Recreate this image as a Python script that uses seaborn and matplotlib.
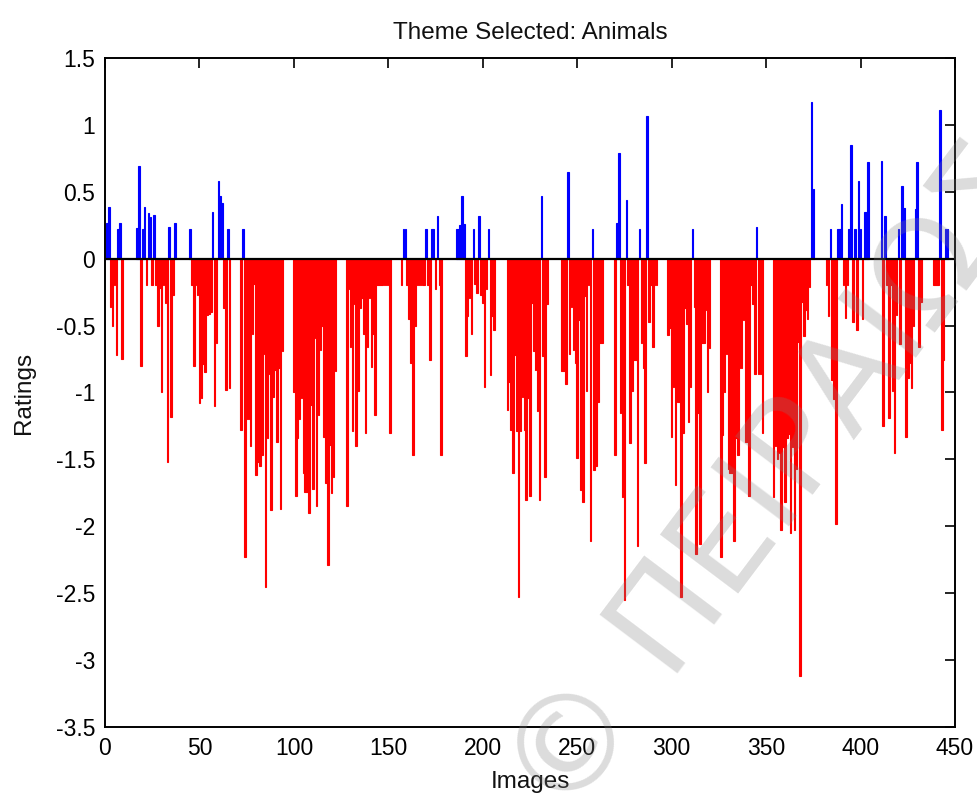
import numpy as np
import pandas as pd
import matplotlib
matplotlib.use("Agg")
import matplotlib.pyplot as plt
import seaborn as sns
from matplotlib.ticker import FuncFormatter

# ---- data: one rating per image (images 1..446) ----
ratings_001_050 = [0.27, 0.39, -0.36, -0.5, -0.2, -0.72, 0.22, 0.27, -0.75, 0,
                   0, 0, 0, 0, 0, 0, 0.23, 0.69, -0.8, 0.22,
                   0.39, -0.2, 0.34, 0.31, -0.2, 0.33, -0.2, -0.5, -0.22, -1.0,
                   -0.2, -0.33, -1.52, 0.24, -1.18, -0.27, 0.27, 0, 0, 0,
                   0, 0, 0, 0, 0.22, -0.2, -0.8, -0.2, -0.27, -1.08]
ratings_051_100 = [-1.04, -0.79, -0.85, -0.42, -0.41, -0.4, 0.35, -1.1, -0.63, 0.58,
                   0.47, 0.42, -0.37, -0.98, 0.22, -0.97, 0, 0, 0, 0,
                   0, -1.28, 0.22, -2.23, -1.2, -1.2, -1.4, -0.56, -0.19, -1.62,
                   -1.52, -1.55, -1.47, -0.71, -2.45, -1.34, -0.86, -1.88, -1.03, -0.83,
                   -1.37, -0.82, -1.87, -0.69, 0, 0, 0, 0, 0, -1.0]
ratings_101_150 = [-1.77, -1.34, -1.2, -1.04, -1.6, -1.74, -1.74, -1.9, -1.09, -1.72,
                   -0.59, -1.85, -1.17, -0.68, -0.5, -1.33, -1.68, -2.29, -1.39, -1.75,
                   -1.63, -0.84, 0, 0, 0, 0, 0, -1.85, -0.23, -0.66,
                   -1.29, -0.34, -1.4, -0.99, -0.37, -0.29, -0.56, -1.3, -0.66, -0.29,
                   -0.81, -0.56, -1.17, -0.2, -0.2, -0.2, -0.2, -0.2, -0.2, -0.2]
ratings_151_200 = [-1.3, 0, 0, 0, 0, 0, -0.2, 0.22, 0.22, -0.2,
                   -0.45, -0.78, -1.47, -0.5, -0.2, -0.2, -0.2, -0.2, -0.2, 0.22,
                   -0.2, -0.76, 0.22, 0.22, -0.23, 0.32, -0.2, -1.47, 0, 0,
                   0, 0, 0, 0, 0, 0.22, 0.22, 0.25, 0.47, 0.26,
                   -0.73, -0.43, -0.29, -0.56, 0.22, -0.19, -0.26, 0.32, -0.27, -0.33]
ratings_201_250 = [-0.96, -0.23, 0.22, -0.87, -0.43, -0.53, 0, 0, 0, 0,
                   0, 0, -1.13, -0.92, -1.28, -1.6, -0.72, -1.29, -2.53, -1.29,
                   -1.03, -1.28, -1.8, -1.04, -1.77, -0.33, -0.69, -0.83, -1.14, -1.8,
                   0.47, -0.73, -1.63, -0.34, 0, 0, 0, 0, 0, 0,
                   0, -0.84, -0.84, -0.94, 0.65, -0.71, -0.36, -0.68, -0.78, -1.49]
ratings_251_300 = [-0.46, -1.73, -1.82, -0.28, -0.99, -0.2, -2.11, 0.22, -1.58, -1.55,
                   -1.07, -0.63, -0.63, 0, 0, 0, 0, 0, 0, -1.47,
                   0.27, 0.79, -1.15, -1.78, -2.55, 0.44, -0.2, -1.38, -0.99, -0.76,
                   -0.76, -2.15, 0.22, -0.63, -0.82, -1.53, 1.07, -0.47, -0.2, -0.66,
                   -0.2, -0.2, 0, 0, 0, 0, 0, -0.57, -0.52, -1.33]
ratings_301_350 = [-0.96, -1.69, -1.07, -1.07, -2.53, -1.3, -0.37, -0.49, -1.22, -0.96,
                   0.22, -0.36, -2.21, -1.15, -2.13, -0.63, -0.63, -0.38, -1.0, -0.67,
                   0, 0, 0, 0, 0, -2.23, -1.32, -1.0, -0.71, -1.57,
                   -1.6, -1.6, -2.11, -1.34, -1.47, -0.82, -0.82, -0.46, -1.37, -1.37,
                   -1.77, -0.2, -0.34, -0.86, 0.24, -0.86, -0.86, -1.3, 0, 0]
ratings_351_400 = [0, 0, 0, -1.78, -1.4, -1.5, -1.45, -2.03, -1.41, -1.82,
                   -1.34, -1.31, -2.05, -1.41, -2.03, -1.57, -0.62, -3.12, -0.32, -0.58,
                   -0.38, -0.45, -0.21, 1.17, 0.52, 0, 0, 0, 0, 0,
                   0, -0.2, -0.43, 0.22, -0.91, -1.05, -1.98, 0.22, 0.22, 0.41,
                   -0.2, -0.44, -0.2, 0.22, 0.85, -0.47, 0.22, -0.53, 0.58, 0.22]
ratings_401_446 = [-0.45, 0.35, 0.35, 0.72, 0, 0, 0, 0, 0, 0,
                   0.73, -1.25, 0.32, -0.2, -1.19, -0.2, -0.99, -1.45, -0.42, 0.22,
                   -0.64, 0.54, 0.38, -1.33, -0.89, -0.78, -0.97, -0.5, 0.37, 0.72,
                   -0.66, -0.32, 0, 0, 0, 0, 0, 0, -0.2, -0.2,
                   -0.2, 1.11, -1.28, -0.76, 0.22, 0.22]

x_ticks = [0, 50, 100, 150, 200, 250, 300, 350, 400, 450]
y_ticks = [-3.5, -3, -2.5, -2, -1.5, -1, -0.5, 0, 0.5, 1, 1.5]
title_text = "Theme Selected: Animals"
x_label = "Images"
y_label = "Ratings"
watermark_text = "© ΠΕΙΡΑΙΩΣ"

ratings = (ratings_001_050 + ratings_051_100 + ratings_101_150 + ratings_151_200 +
           ratings_201_250 + ratings_251_300 + ratings_301_350 + ratings_351_400 +
           ratings_401_446)
images = list(range(1, len(ratings) + 1))

df = pd.DataFrame({"image": images, "rating": ratings})
pos = df[df["rating"] > 0]
neg = df[df["rating"] < 0]

sns.set_style("white")
plt.rcParams["font.family"] = ["Liberation Sans", "DejaVu Sans"]

fig = plt.figure(figsize=(9.78, 7.96), dpi=100)
ax = fig.add_axes([105 / 978, 1 - 727 / 796, 850 / 978, 669 / 796])

sns.barplot(data=neg, x="image", y="rating", native_scale=True, color="#ff0000",
            saturation=1, width=0.85, errorbar=None, edgecolor="#ff0000",
            linewidth=0.8, ax=ax)
sns.barplot(data=pos, x="image", y="rating", native_scale=True, color="#0000ff",
            saturation=1, width=0.85, errorbar=None, edgecolor="#0000ff",
            linewidth=0.8, ax=ax)

ax.axhline(0, color="black", lw=1.6, zorder=5)

ax.set_xlim(0, 450)
ax.set_ylim(-3.5, 1.5)
ax.set_xticks(x_ticks)
ax.set_yticks(y_ticks)
ax.yaxis.set_major_formatter(FuncFormatter(lambda v, p: "%g" % v))
ax.xaxis.set_major_formatter(FuncFormatter(lambda v, p: "%g" % v))
ax.tick_params(direction="in", top=True, right=True, length=7, width=1.2,
               labelsize=16.5, colors="black", pad=7)
for s in ax.spines.values():
    s.set_color("black")
    s.set_linewidth(1.4)
    s.set_visible(True)

ax.set_title(title_text, fontsize=17.5, pad=14, color="#111111")
ax.set_xlabel(x_label, fontsize=17.5, labelpad=8, color="#111111")
ax.set_ylabel(y_label, fontsize=17.5, labelpad=15, color="#111111")

# watermark overlay
fig.text(0.578, -0.035, watermark_text, rotation=53, rotation_mode="anchor",
         ha="left", va="baseline", fontsize=96, color="#808080", alpha=0.28,
         family=["DejaVu Sans"], zorder=10)

fig.savefig("out.png", dpi=100)
